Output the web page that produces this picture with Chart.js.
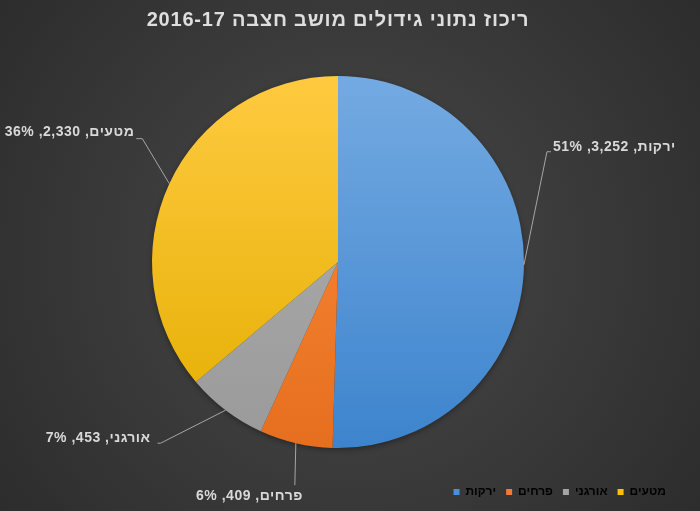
<!DOCTYPE html>
<html>
<head>
<meta charset="utf-8">
<script src="https://cdn.jsdelivr.net/npm/chart.js@4/dist/chart.umd.min.js"></script>
<style>
  html, body { margin: 0; padding: 0; background: #3a3a3a; }
  #wrap { width: 700px; height: 511px; }
</style>
</head>
<body>
<div id="wrap"><canvas id="myChart" width="700" height="511"></canvas></div>
<script>
var chartTitle = 'ריכוז נתוני גידולים מושב חצבה 2016-17';
var categories = ['ירקות', 'פרחים', 'אורגני', 'מטעים'];
var values = [3252, 409, 453, 2330];

// top / bottom colour of each slice's gradient, plus the flat legend colour
var topColors = ['#74aae2', '#ff8d3c', '#b0b0b0', '#ffca40'];
var bottomColors = ['#3d84cd', '#e56f1e', '#9a9a9a', '#e3ae00'];
var legendColors = ['#4a90d9', '#ed7d31', '#a5a5a5', '#ffc000'];

// where each data label sits, relative to the point on the rim at the slice middle
var labelPlaces = [
  {dx: 23, dy: -113, tick: 4, tx: 6, ty: -5, align: 'left'},
  {dx: -1, dy: 42, tick: 0, tx: 8, ty: 11, align: 'right'},
  {dx: -65, dy: 33, tick: -3, tx: -10, ty: -5, align: 'right'},
  {dx: -27, dy: -45, tick: -6, tx: -8, ty: -6, align: 'right'}
];

Chart.defaults.font.family = '"Liberation Sans", Arial, sans-serif';

var ctx = document.getElementById('myChart').getContext('2d');

// whole percents that add up to 100 (largest remainder), like the office app does
function roundedPercents(data) {
  var total = data.reduce(function(a, b) { return a + b; }, 0);
  var raw = data.map(function(v) { return v / total * 100; });
  var out = raw.map(Math.floor);
  var left = 100 - out.reduce(function(a, b) { return a + b; }, 0);
  var order = raw.map(function(r, i) { return i; })
    .sort(function(a, b) { return (raw[b] - out[b]) - (raw[a] - out[a]); });
  for (var k = 0; k < left; k++) out[order[k]]++;
  return out;
}

function sliceGradient(context, i) {
  var chart = context.chart;
  var area = chart.chartArea;
  if (!area) return legendColors[i];
  var cy = (area.top + area.bottom) / 2;
  var g = chart.ctx.createLinearGradient(0, cy - 186, 0, cy + 186);
  g.addColorStop(0, topColors[i]);
  g.addColorStop(1, bottomColors[i]);
  return g;
}

var backgroundPlugin = {
  id: 'bg',
  beforeDraw: function(chart) {
    var c = chart.ctx;
    var w = chart.width, h = chart.height;
    c.save();
    var g = c.createRadialGradient(w / 2, h / 2, 20, w / 2, h / 2, 440);
    g.addColorStop(0, '#484848');
    g.addColorStop(1, '#2c2c2c');
    c.fillStyle = g;
    c.fillRect(0, 0, w, h);
    c.restore();
  }
};

var shadowPlugin = {
  id: 'pieShadow',
  beforeDatasetsDraw: function(chart) {
    var arc = chart.getDatasetMeta(0).data[0];
    if (!arc) return;
    var p = arc.getProps(['x', 'y', 'outerRadius'], true);
    var c = chart.ctx;
    c.save();
    c.shadowColor = 'rgba(0,0,0,0.45)';
    c.shadowBlur = 6;
    c.shadowOffsetY = 2;
    c.fillStyle = '#3a3a3a';
    c.beginPath();
    c.arc(p.x, p.y, p.outerRadius - 1, 0, Math.PI * 2);
    c.fill();
    c.restore();
  }
};

var labelPlugin = {
  id: 'outLabels',
  afterDatasetsDraw: function(chart) {
    var c = chart.ctx;
    var meta = chart.getDatasetMeta(0);
    var data = chart.data.datasets[0].data;
    var pcts = roundedPercents(data);
    meta.data.forEach(function(arc, i) {
      var p = arc.getProps(['x', 'y', 'startAngle', 'endAngle', 'outerRadius'], true);
      var mid = (p.startAngle + p.endAngle) / 2;
      var ex = p.x + Math.cos(mid) * p.outerRadius;
      var ey = p.y + Math.sin(mid) * p.outerRadius;
      var pl = labelPlaces[i];
      var bx = ex + pl.dx, by = ey + pl.dy;
      c.save();
      c.strokeStyle = '#a6a6a6';
      c.lineWidth = 1;
      c.beginPath();
      c.moveTo(ex, ey);
      c.lineTo(bx, by);
      if (pl.tick) c.lineTo(bx + pl.tick, by);
      c.stroke();
      var text = chart.data.labels[i] + ', ' + data[i].toLocaleString('en-US') + ', ' + pcts[i] + '%';
      c.direction = 'rtl';
      c.font = 'bold 14px "Liberation Sans", Arial, sans-serif';
      c.letterSpacing = '0.5px';
      c.fillStyle = '#d9d9d9';
      c.textAlign = pl.align;
      c.textBaseline = 'middle';
      c.fillText(text, bx + pl.tx, by + pl.ty);
      c.restore();
    });
  }
};

var titlePlugin = {
  id: 'spacedTitle',
  afterDraw: function(chart) {
    var c = chart.ctx;
    var area = chart.chartArea;
    c.save();
    c.direction = 'rtl';
    c.font = 'bold 20px "Liberation Sans", Arial, sans-serif';
    c.letterSpacing = '0.8px';
    c.fillStyle = '#dedede';
    c.textAlign = 'center';
    c.textBaseline = 'middle';
    c.fillText(chartTitle, (area.left + area.right) / 2, 20);
    c.restore();
  }
};

var myPieChart = new Chart(ctx, {
  type: 'pie',
  data: {
    labels: categories,
    datasets: [{
      data: values,
      backgroundColor: function(context) { return sliceGradient(context, context.dataIndex); },
      borderWidth: 0
    }]
  },
  options: {
    responsive: false,
    animation: false,
    radius: 186,
    layout: { padding: { left: 0, right: 24, top: 48, bottom: 3 } },
    plugins: {
      title: { display: false },
      legend: {
        position: 'bottom',
        align: 'end',
        labels: {
          color: '#d9d9d9',
          font: { size: 12, weight: 'bold' },
          boxWidth: 6,
          boxHeight: 6,
          padding: 10,
          generateLabels: function(chart) {
            return chart.data.labels.map(function(l, i) {
              return {
                text: l,
                fillStyle: legendColors[i],
                strokeStyle: legendColors[i],
                lineWidth: 0,
                hidden: false,
                index: i
              };
            });
          }
        }
      },
      tooltip: { enabled: false }
    }
  },
  plugins: [backgroundPlugin, shadowPlugin, labelPlugin, titlePlugin]
});
</script>
</body>
</html>
